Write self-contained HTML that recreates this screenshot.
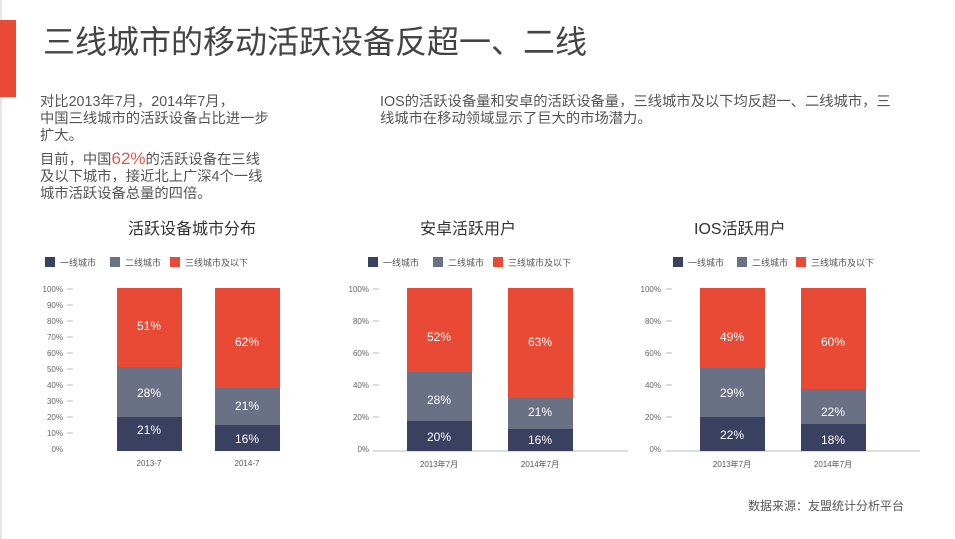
<!DOCTYPE html>
<html><head><meta charset="utf-8"><style>
html,body{margin:0;padding:0;background:#fff;width:955px;height:539px;overflow:hidden;font-family:"Liberation Sans","Noto Sans CJK SC",sans-serif}
</style></head><body>
<svg width="955" height="539" xmlns="http://www.w3.org/2000/svg" font-family="Liberation Sans, Noto Sans CJK SC, sans-serif">
<rect x="0" y="0" width="955" height="539" fill="#fff"/>
<rect x="0" y="0" width="2" height="539" fill="#e6e6e6"/>
<rect x="0" y="20" width="16" height="77" fill="#e84a36"/>
<text x="43" y="53" font-size="32" fill="#444">三线城市的移动活跃设备反超一、二线</text>
<g font-size="14.3" fill="#555">
<text x="40" y="106">对比2013年7月，2014年7月，</text>
<text x="40" y="123">中国三线城市的活跃设备占比进一步</text>
<text x="40" y="140">扩大。</text>
<text x="40" y="164">目前，中国<tspan fill="#e8554a" font-size="17">62%</tspan>的活跃设备在三线</text>
<text x="40" y="181">及以下城市，接近北上广深4个一线</text>
<text x="40" y="198">城市活跃设备总量的四倍。</text>
<text x="380" y="106">IOS的活跃设备量和安卓的活跃设备量，三线城市及以下均反超一、二线城市，三</text>
<text x="380" y="123">线城市在移动领域显示了巨大的市场潜力。</text>
</g>
<g font-size="16" fill="#333">
<text x="128" y="234">活跃设备城市分布</text>
<text x="420" y="234">安卓活跃用户</text>
<text x="694" y="234">IOS活跃用户</text>
</g>
<g font-size="9" fill="#555">
<rect x="45" y="257" width="10" height="10" fill="#3a4160"/><text x="60" y="266">一线城市</text>
<rect x="110" y="257" width="10" height="10" fill="#6b7185"/><text x="125" y="266">二线城市</text>
<rect x="170" y="257" width="10" height="10" fill="#e84a36"/><text x="185" y="266">三线城市及以下</text>
<rect x="368" y="257" width="10" height="10" fill="#3a4160"/><text x="383" y="266">一线城市</text>
<rect x="433" y="257" width="10" height="10" fill="#6b7185"/><text x="448" y="266">二线城市</text>
<rect x="493" y="257" width="10" height="10" fill="#e84a36"/><text x="508" y="266">三线城市及以下</text>
<rect x="673" y="257" width="10" height="10" fill="#3a4160"/><text x="688" y="266">一线城市</text>
<rect x="737" y="257" width="10" height="10" fill="#6b7185"/><text x="752" y="266">二线城市</text>
<rect x="796" y="257" width="10" height="10" fill="#e84a36"/><text x="811" y="266">三线城市及以下</text>
</g>
<g font-size="8" fill="#666" text-anchor="end">
<text x="63" y="292">100%</text><text x="63" y="308">90%</text><text x="63" y="324">80%</text><text x="63" y="340">70%</text><text x="63" y="356">60%</text><text x="63" y="372">50%</text><text x="63" y="388">40%</text><text x="63" y="404">30%</text><text x="63" y="420">20%</text><text x="63" y="436">10%</text><text x="63" y="452">0%</text>
<text x="369" y="292">100%</text><text x="369" y="324">80%</text><text x="369" y="356">60%</text><text x="369" y="388">40%</text><text x="369" y="420">20%</text><text x="369" y="452">0%</text>
<text x="661" y="292">100%</text><text x="661" y="324">80%</text><text x="661" y="356">60%</text><text x="661" y="388">40%</text><text x="661" y="420">20%</text><text x="661" y="452">0%</text>
</g>
<g stroke="#bbb" stroke-width="1">
<path d="M67 289h6M67 305h6M67 321h6M67 337h6M67 353h6M67 369h6M67 385h6M67 401h6M67 417h6M67 433h6"/>
<path d="M373 289h6M373 321h6M373 353h6M373 385h6M373 417h6M373 451h255"/>
<path d="M666 289h6M666 321h6M666 353h6M666 385h6M666 417h6M666 451h254"/>
</g>
<rect x="117" y="288" width="65" height="79" fill="#e84a36"/><rect x="117" y="367" width="65" height="50" fill="#6b7185"/><rect x="117" y="417" width="65" height="34" fill="#3a4160"/>
<rect x="215" y="288" width="65" height="100" fill="#e84a36"/><rect x="215" y="388" width="65" height="37" fill="#6b7185"/><rect x="215" y="425" width="65" height="26" fill="#3a4160"/>
<rect x="407" y="288" width="65" height="84" fill="#e84a36"/><rect x="407" y="372" width="65" height="49" fill="#6b7185"/><rect x="407" y="421" width="65" height="30" fill="#3a4160"/>
<rect x="508" y="288" width="65" height="110" fill="#e84a36"/><rect x="508" y="398" width="65" height="31" fill="#6b7185"/><rect x="508" y="429" width="65" height="22" fill="#3a4160"/>
<rect x="700" y="288" width="65" height="80" fill="#e84a36"/><rect x="700" y="368" width="65" height="49" fill="#6b7185"/><rect x="700" y="417" width="65" height="34" fill="#3a4160"/>
<rect x="801" y="288" width="65" height="101" fill="#e84a36"/><rect x="801" y="389" width="65" height="35" fill="#6b7185"/><rect x="801" y="424" width="65" height="27" fill="#3a4160"/>
<g font-size="12" fill="#fff" text-anchor="middle">
<text x="149" y="330">51%</text><text x="149" y="397">28%</text><text x="149" y="434">21%</text>
<text x="247" y="346">62%</text><text x="247" y="410">21%</text><text x="247" y="443">16%</text>
<text x="439" y="341">52%</text><text x="439" y="404">28%</text><text x="439" y="441">20%</text>
<text x="540" y="346">63%</text><text x="540" y="416">21%</text><text x="540" y="444">16%</text>
<text x="732" y="341">49%</text><text x="732" y="397">29%</text><text x="732" y="439">22%</text>
<text x="833" y="346">60%</text><text x="833" y="416">22%</text><text x="833" y="444">18%</text>
</g>
<g font-size="8" fill="#555" text-anchor="middle">
<text x="149" y="466">2013-7</text><text x="247" y="466">2014-7</text>
<text x="439" y="467">2013年7月</text><text x="540" y="467">2014年7月</text>
<text x="732" y="467">2013年7月</text><text x="833" y="467">2014年7月</text>
</g>
<text x="748" y="510" font-size="12" fill="#555">数据来源：友盟统计分析平台</text>
</svg>
</body></html>
